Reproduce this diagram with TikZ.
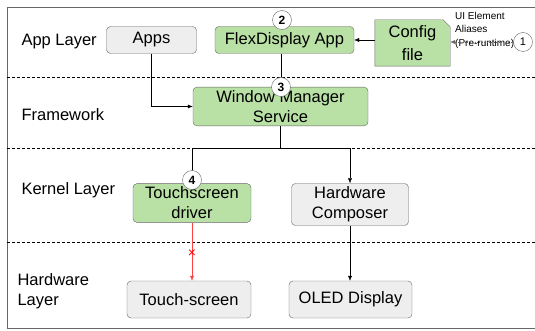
\documentclass[tikz,border=0pt]{standalone}
\usepackage{fontspec}
\setmainfont{Liberation Sans}
\usetikzlibrary{arrows.meta,backgrounds}
\definecolor{boxgreen}{RGB}{185,224,165}
\definecolor{boxgray}{RGB}{238,238,238}
\definecolor{boxline}{RGB}{102,102,102}
\begin{document}
\begin{tikzpicture}[x=1pt,y=-1pt,
  >={Latex[length=5pt,width=4pt]},
  every node/.style={font=\fontsize{16.5}{20}\selectfont},
  graybox/.style={draw=boxline,fill=boxgray,rounded corners=4pt,align=center},
  greenbox/.style={draw=boxline,fill=boxgreen,rounded corners=4pt,align=center},
  badge/.style={circle,draw=boxline,fill=white,minimum size=19pt,inner sep=0pt,font=\fontsize{12}{13}\selectfont\bfseries},
  layer/.style={anchor=west,align=left},
  sep/.style={dash pattern=on 3pt off 2pt}]

\useasboundingbox (0,0) rectangle (535,331);

% frame and layer lines
\draw [boxline] (535,7) -- (7,7) -- (7,328) -- (535,328);
\draw [sep] (7,77) -- (535,77);
\draw [sep] (7,148) -- (535,148);
\draw [sep] (7,242) -- (535,242);

\node (appl) at (18,42) [layer] {App Layer};
\node (fwl) at (18,115) [layer] {Framework};
\node (kl) at (18,190) [layer] {Kernel Layer};
\node (hwl) at (14,291) [layer] {Hardware\\Layer};

% app layer
\node (apps) at (151.5,40) [graybox,minimum width=90pt,minimum height=27pt] {Apps};
\node (flex) at (284.5,40) [greenbox,minimum width=139pt,minimum height=27pt] {FlexDisplay App};
\node (config) at (412.5,43) [minimum width=75pt,minimum height=46pt,align=center] {Config\\[3pt]file};
\begin{pgfonlayer}{background}
\draw [draw=boxline,fill=boxgreen] (config.north west) -- ([xshift=-7pt]config.north east)
  -- ([yshift=-7pt]config.north east) -- (config.south east) -- (config.south west) -- cycle;
\end{pgfonlayer}
\node (alias) at (455,30) [anchor=west,align=left,inner sep=0pt,font=\fontsize{10}{13.5}\selectfont] {UI Element\\Aliases\\(Pre-runtime)};

% framework
\node (wms) at (280.5,106.5) [greenbox,minimum width=175pt,minimum height=37pt] {Window Manager\\Service};

% kernel
\node (tsd) at (192,203) [greenbox,minimum width=118pt,minimum height=38pt] {Touchscreen\\driver};
\node (hc) at (350,204.5) [graybox,minimum width=117pt,minimum height=37pt] {Hardware\\Composer};

% hardware
\node (ts) at (189,299.5) [graybox,minimum width=124pt,minimum height=37pt] {Touch-screen};
\node (oled) at (350.5,299.5) [graybox,minimum width=123pt,minimum height=37pt] {OLED Display};

\coordinate (fork) at (wms.south |- 0,148);

\draw [->] (flex.east -| config.west) -- (flex.east);
\draw [->] ([xshift=-3.5pt]flex.south) -- ([xshift=-3.5pt]flex.south |- wms.north);
\draw [->] (apps.south) |- (wms.west);
\draw (wms.south) -- (fork);
\draw [->] (fork) -| (tsd.north);
\draw [->] (fork) -| (hc.north);
\draw [->,red!75] (tsd.south) -- (tsd.south |- ts.north)
  node [pos=0.53,text=red,inner sep=0pt,font=\fontsize{14}{14}\selectfont] {×};
\draw [->] (hc.south) -- (hc.south |- oled.north);

% step badges
\node (b1) at (523,42) [badge,font=\fontsize{11}{12}\selectfont] {1};
\draw [->,dotted,boxline] (b1.west) -- (b1.west -| config.east);
\node (b2) at (282,20) [badge] {2};
\node (b3) at (281,87) [badge] {3};
\node (b4) at (192,180) [badge] {4};

\end{tikzpicture}
\end{document}
